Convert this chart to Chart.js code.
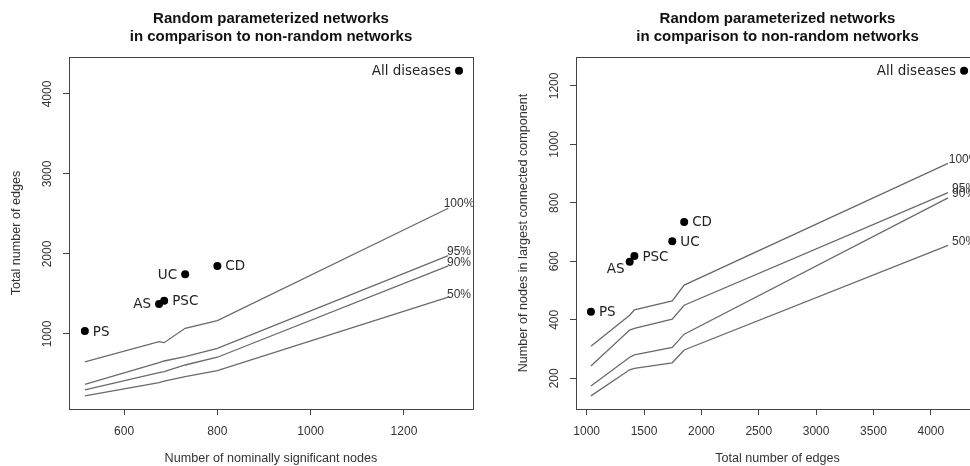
<!DOCTYPE html>
<html>
<head>
<meta charset="utf-8">
<script src="https://cdn.jsdelivr.net/npm/chart.js@4.4.0/dist/chart.umd.min.js"></script>
<style>
  html, body { margin: 0; padding: 0; background: #fff; overflow: hidden; width: 970px; height: 466px; }
  canvas { position: absolute; top: 0; }
  #nodesEdges { left: 0; }
  #edgesLcc { left: 485px; }
</style>
</head>
<body>
<canvas id="nodesEdges" width="485" height="466"></canvas>
<canvas id="edgesLcc" width="510" height="466"></canvas>
<script>
// observed (non-random) networks
var diseases = ['PS', 'AS', 'PSC', 'UC', 'CD', 'All diseases'];
var sigNodes = [516, 675, 686, 731, 800, 1318];
var totalEdges = [1037, 1375, 1416, 1746, 1850, 4290];
var lccNodes = [428, 599, 618, 669, 735, 1252];

// quantiles of random parameterized networks
var quantiles = ['100%', '95%', '90%', '50%'];

// left panel: edges vs significant nodes
var nodesLineX = [516, 675, 686, 731, 800, 1295];
var edgesQ100 = [650, 904, 891, 1071, 1166, 2571];
var edgesQ95 = [371, 641, 662, 717, 821, 1979];
var edgesQ90 = [300, 516, 529, 612, 709, 1850];
var edgesQ50 = [225, 391, 409, 467, 541, 1459];

// right panel: lcc nodes vs edges
var edgesLineX = [1037, 1375, 1416, 1746, 1850, 4150];
var lccQ100 = [310, 416, 434, 465, 519, 935];
var lccQ95 = [242, 365, 371, 402, 450, 835];
var lccQ90 = [174, 272, 280, 306, 351, 817];
var lccQ50 = [140, 229, 234, 253, 297, 655];

// axis ticks
var sigNodeTicks = [600, 800, 1000, 1200];
var edgeTicksLeft = [1000, 2000, 3000, 4000];
var edgeTicksRight = [1000, 1500, 2000, 2500, 3000, 3500, 4000];
var lccTicks = [200, 400, 600, 800, 1000, 1200];

var titleLines = ['Random parameterized networks', 'in comparison to non-random networks'];

var FONT = '"Liberation Sans", Arial, sans-serif';

function pairs(xs, ys) {
    return xs.map(function (x, i) { return { x: x, y: ys[i] }; });
}

function fixedTicks(values) {
    return function (scale) {
        scale.ticks = values.map(function (v) { return { value: v }; });
    };
}

// R-style decorations: box, titles, rotated y ticks, text labels
var rDecor = {
    id: 'rDecor',
    afterDatasetsDraw: function (chart, args, opts) {
        var ctx = chart.ctx;
        var xs = chart.scales.x;
        ctx.save();

        // quantile labels just past the end of each line
        ctx.font = '12px ' + FONT;
        ctx.fillStyle = '#333';
        ctx.textAlign = 'center';
        ctx.textBaseline = 'middle';
        for (var d = 0; d < quantiles.length; d++) {
            var pts = chart.getDatasetMeta(d).data;
            var p1 = pts[pts.length - 2], p2 = pts[pts.length - 1];
            var lx = xs.getPixelForValue(opts.labelX);
            var ly = p2.y + (p2.y - p1.y) / (p2.x - p1.x) * 9;
            ctx.fillText(quantiles[d], lx, ly);
        }

        // disease labels
        ctx.font = '13.5px "DejaVu Sans", sans-serif';
        ctx.fillStyle = '#222';
        var dots = chart.getDatasetMeta(quantiles.length).data;
        dots.forEach(function (pt, i) {
            var pos = opts.labelPos[i];
            if (pos === 'right') {
                ctx.textAlign = 'left';
                ctx.fillText(diseases[i], pt.x + 8, pt.y + 1);
            } else if (pos === 'left') {
                ctx.textAlign = 'right';
                ctx.fillText(diseases[i], pt.x - 8, pt.y + 1);
            } else {
                ctx.textAlign = 'center';
                ctx.fillText(diseases[i], pt.x - 14, pt.y + 8);
            }
        });
        ctx.restore();
    },
    afterDraw: function (chart, args, opts) {
        var ctx = chart.ctx;
        var a = chart.chartArea;
        var ys = chart.scales.y;
        ctx.save();
        // box
        ctx.strokeStyle = '#444';
        ctx.lineWidth = 1;
        ctx.strokeRect(Math.round(a.left) + 0.5, Math.round(a.top) + 0.5,
            Math.round(a.right - a.left), Math.round(a.bottom - a.top));

        var cx = (a.left + a.right) / 2;
        // main title
        ctx.fillStyle = '#111';
        ctx.textAlign = 'center';
        ctx.textBaseline = 'middle';
        ctx.font = 'bold 15px ' + FONT;
        ctx.fillText(titleLines[0], cx, 19);
        ctx.fillText(titleLines[1], cx, 37);

        // x axis title
        ctx.fillStyle = '#333';
        ctx.font = '12.6px ' + FONT;
        ctx.fillText(opts.xTitle, cx, 459);

        // y axis title, rotated
        ctx.save();
        ctx.translate(a.left - 52, (a.top + a.bottom) / 2);
        ctx.rotate(-Math.PI / 2);
        ctx.fillText(opts.yTitle, 0, 0);
        ctx.restore();

        // y tick labels, rotated like R
        ctx.font = '12px ' + FONT;
        ys.ticks.forEach(function (t) {
            var py = ys.getPixelForValue(t.value);
            ctx.save();
            ctx.translate(a.left - 21, py);
            ctx.rotate(-Math.PI / 2);
            ctx.fillText(String(t.value), 0, 0);
            ctx.restore();
        });
        ctx.restore();
    }
};

function makeChart(id, lineX, lineSets, px, py, opt) {
    var datasets = lineSets.map(function (ys, i) {
        return {
            label: quantiles[i],
            data: pairs(lineX, ys),
            showLine: true,
            borderColor: '#6a6a6a',
            borderWidth: 1.3,
            pointRadius: 0,
            tension: 0
        };
    });
    datasets.push({
        label: 'observed',
        data: pairs(px, py),
        showLine: false,
        pointRadius: 4,
        pointBackgroundColor: '#000',
        pointBorderWidth: 0
    });

    return new Chart(document.getElementById(id).getContext('2d'), {
        type: 'scatter',
        data: { datasets: datasets },
        options: {
            responsive: false,
            devicePixelRatio: 1,
            animation: false,
            layout: { padding: { top: 57, right: opt.padRight, left: 0, bottom: 0 } },
            scales: {
                x: {
                    type: 'linear',
                    min: opt.xMin, max: opt.xMax,
                    afterBuildTicks: fixedTicks(opt.xTicks),
                    afterFit: function (s) { s.height = 57; },
                    border: { display: false },
                    grid: { drawOnChartArea: false, drawTicks: true, tickLength: 6, tickColor: '#444' },
                    ticks: {
                        maxRotation: 0, autoSkip: false,
                        padding: 9, color: '#333', font: { family: FONT, size: 12 },
                        callback: function (v) { return String(v); }
                    }
                },
                y: {
                    type: 'linear',
                    min: opt.yMin, max: opt.yMax,
                    afterBuildTicks: fixedTicks(opt.yTicks),
                    afterFit: function (s) { s.width = opt.yWidth; },
                    border: { display: false },
                    grid: { drawOnChartArea: false, drawTicks: true, tickLength: 6, tickColor: '#444' },
                    ticks: { display: false }
                }
            },
            plugins: {
                legend: { display: false },
                tooltip: { enabled: false },
                title: { display: false },
                rDecor: {
                    labelX: opt.labelX,
                    labelPos: opt.labelPos,
                    xTitle: opt.xTitle,
                    yTitle: opt.yTitle
                }
            }
        },
        plugins: [rDecor]
    });
}

makeChart('nodesEdges', nodesLineX, [edgesQ100, edgesQ95, edgesQ90, edgesQ50], sigNodes, totalEdges, {
    xMin: 482, xMax: 1348, xTicks: sigNodeTicks,
    yMin: 62, yMax: 4462, yTicks: edgeTicksLeft,
    yWidth: 69, padRight: 12,
    labelX: sigNodes[sigNodes.length - 1],
    labelPos: ['right', 'left', 'right', 'left', 'right', 'left'],
    xTitle: 'Number of nominally significant nodes',
    yTitle: 'Total number of edges'
});

makeChart('edgesLcc', edgesLineX, [lccQ100, lccQ95, lccQ90, lccQ50], totalEdges, lccNodes, {
    xMin: 907, xMax: 4420, xTicks: edgeTicksRight,
    yMin: 95, yMax: 1299, yTicks: lccTicks,
    yWidth: 91, padRight: 16,
    labelX: totalEdges[totalEdges.length - 1],
    labelPos: ['right', 'below', 'right', 'right', 'right', 'left'],
    xTitle: 'Total number of edges',
    yTitle: 'Number of nodes in largest connected component'
});
</script>
</body>
</html>
